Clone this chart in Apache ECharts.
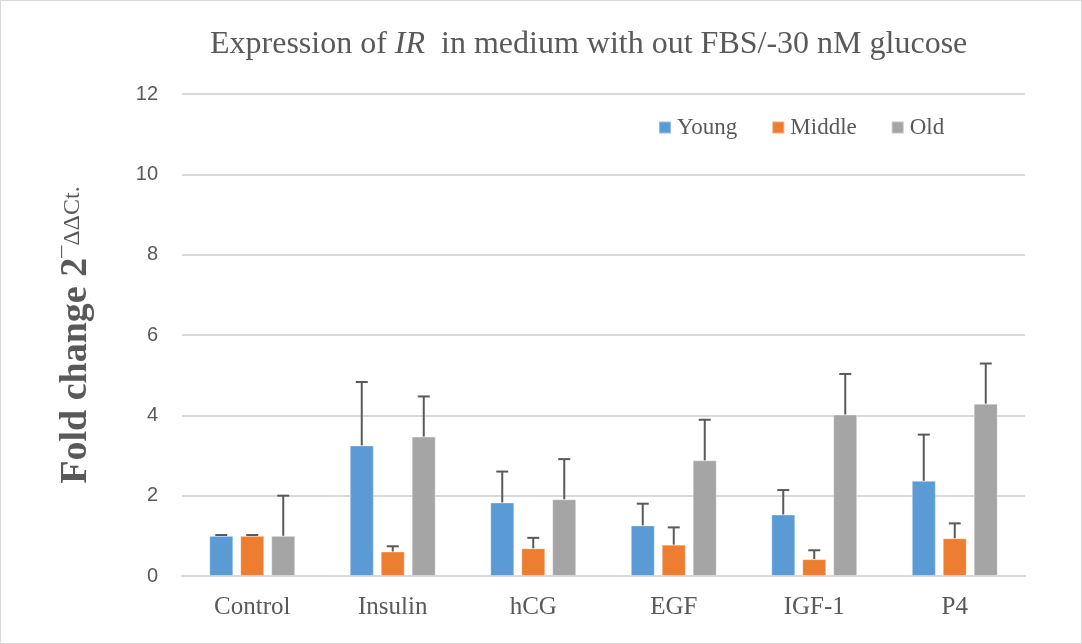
<!DOCTYPE html>
<html>
<head>
<meta charset="utf-8">
<script src="https://cdn.jsdelivr.net/npm/echarts@6/dist/echarts.min.js"></script>
<style>
  html, body { margin: 0; padding: 0; background: #fff; }
  #chart { width: 1080px; height: 642px; border: 1px solid #d9d9d9; }
</style>
</head>
<body>
<div id="chart"></div>
<script>
var categories = ['Control', 'Insulin', 'hCG', 'EGF', 'IGF-1', 'P4'];
var seriesNames = ['Young', 'Middle', 'Old'];
var youngVals = [1.0, 3.25, 1.83, 1.26, 1.53, 2.37];
var middleVals = [1.0, 0.61, 0.69, 0.78, 0.42, 0.94];
var oldVals = [1.0, 3.47, 1.91, 2.88, 4.02, 4.29];
// upper end of the error bars
var youngErr = [1.02, 4.83, 2.60, 1.80, 2.14, 3.52];
var middleErr = [1.02, 0.74, 0.95, 1.21, 0.64, 1.31];
var oldErr = [2.0, 4.47, 2.91, 3.89, 5.03, 5.29];
var yTicks = [0, 2, 4, 6, 8, 10, 12];

var colors = ['#5b9bd5', '#ed7d31', '#a5a5a5'];
var values = [youngVals, middleVals, oldVals];
var errs = [youngErr, middleErr, oldErr];
var barWidth = 24;
var offsets = [-31, 0, 31];

var chart = echarts.init(document.getElementById('chart'));

function errorSeries(k) {
  return {
    type: 'custom',
    name: seriesNames[k] + ' err',
    z: 5,
    data: categories.map(function (c, i) { return [i, errs[k][i], values[k][i]]; }),
    renderItem: function (params, api) {
      var base = api.coord([api.value(0), api.value(2)]);
      var top = api.coord([api.value(0), api.value(1)]);
      var x = base[0] + offsets[k];
      var style = { stroke: '#595959', lineWidth: 2 };
      return {
        type: 'group',
        children: [
          { type: 'line', shape: { x1: x, y1: base[1], x2: x, y2: top[1] }, style: style },
          { type: 'line', shape: { x1: x - 6, y1: top[1], x2: x + 6, y2: top[1] }, style: style }
        ]
      };
    }
  };
}

var series = [];
for (var k = 0; k < 3; k++) {
  series.push({
    name: seriesNames[k],
    type: 'bar',
    data: values[k],
    barWidth: barWidth,
    barGap: '29%',
    itemStyle: { color: colors[k], borderColor: 'rgba(255,255,255,0.35)', borderWidth: 1 }
  });
}
for (var k2 = 0; k2 < 3; k2++) series.push(errorSeries(k2));

chart.setOption({
  animation: false,
  title: {
    text: '{n|Expression of }{i|IR}{n|  in medium with out FBS/-30 nM glucose}',
    left: 204,
    top: 23,
    textStyle: {
      rich: {
        n: { fontFamily: 'Liberation Serif', fontSize: 32, fontWeight: 'normal', color: '#595959' },
        i: { fontFamily: 'Liberation Serif', fontSize: 32, fontWeight: 'normal', color: '#595959', fontStyle: 'italic' }
      }
    }
  },
  legend: {
    data: seriesNames,
    left: 652,
    top: 110,
    itemWidth: 12,
    itemHeight: 12,
    itemGap: 34,
    icon: 'rect',
    textStyle: { fontFamily: 'Liberation Serif', fontSize: 23, color: '#595959', padding: [0, 0, 0, 1] }
  },
  grid: { left: 181, right: 56, top: 93, bottom: 67 },
  xAxis: {
    type: 'category',
    data: categories,
    axisLine: { lineStyle: { color: '#d9d9d9', width: 2 } },
    axisTick: { show: false },
    axisLabel: { fontFamily: 'Liberation Serif', fontSize: 25, color: '#595959', margin: 19 }
  },
  yAxis: {
    type: 'value',
    min: yTicks[0],
    max: yTicks[yTicks.length - 1],
    interval: 2,
    name: '{b|Fold change 2}{s|¯ΔΔCt.}',
    nameLocation: 'middle',
    nameRotate: 90,
    nameGap: 84,
    nameTextStyle: {
      rich: {
        b: { fontFamily: 'Liberation Serif', fontSize: 38, fontWeight: 'bold', color: '#595959', lineHeight: 44 },
        s: { fontFamily: 'Liberation Serif', fontSize: 24, color: '#595959', lineHeight: 44, padding: [0, 0, 6, 0] }
      }
    },
    axisLine: { show: false },
    axisTick: { show: false },
    axisLabel: { fontFamily: 'Liberation Sans', fontSize: 20, color: '#595959', margin: 24 },
    splitLine: { lineStyle: { color: '#d9d9d9', width: 2 } }
  },
  series: series
});
</script>
</body>
</html>
